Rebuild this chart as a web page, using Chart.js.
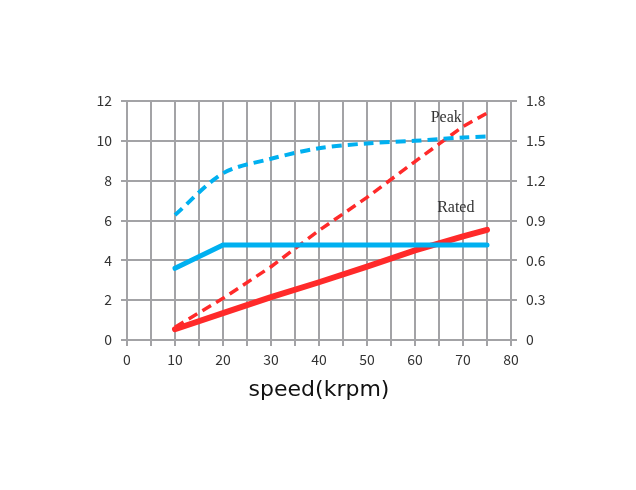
<!DOCTYPE html>
<html>
<head>
<meta charset="utf-8">
<script src="https://cdn.jsdelivr.net/npm/chart.js@4.4.0/dist/chart.umd.min.js"></script>
<style>
  html, body { margin: 0; padding: 0; background: #fff; }
  canvas { display: block; }
</style>
</head>
<body>
<canvas id="chart" width="636" height="490"></canvas>
<script>
// speed in krpm
const speed = [10, 20, 30, 40, 50, 60, 70, 75];
// values read against the left axis
const peakBlue = [6.28, 8.37, 9.1, 9.63, 9.87, 10.0, 10.17, 10.22];
const ratedBlue = [3.6, 4.77, 4.77, 4.77, 4.77, 4.77, 4.77, 4.77];
const peakRed = [0.64, 2.09, 3.68, 5.5, 7.16, 8.96, 10.72, 11.39];
const ratedRed = [0.54, 1.35, 2.15, 2.9, 3.68, 4.5, 5.2, 5.53];
const leftTicks = [0, 2, 4, 6, 8, 10, 12];
const rightTicks = [0, 0.3, 0.6, 0.9, 1.2, 1.5, 1.8];
const xLabels = [0, 10, 20, 30, 40, 50, 60, 70, 80];

const BLUE = "#00b0f0";
const RED = "#ff2a2a";
const GRID = "#a3a3a6";
const TICK_FONT = { family: "'Noto Sans CJK KR'", size: 14 };

const pts = (ys) => speed.map((x, i) => ({ x: x, y: ys[i] }));

// "Peak" / "Rated" text labels
const notes = {
  id: "notes",
  afterDatasetsDraw(chart) {
    const { ctx, scales } = chart;
    ctx.save();
    ctx.font = "16px 'Liberation Serif'";
    ctx.fillStyle = "#333";
    ctx.textAlign = "center";
    ctx.textBaseline = "middle";
    ctx.fillText("Peak", scales.x.getPixelForValue(66.5), scales.y.getPixelForValue(11.15));
    ctx.fillText("Rated", scales.x.getPixelForValue(68.5), scales.y.getPixelForValue(6.63));
    ctx.restore();
  },
};

new Chart(document.getElementById("chart"), {
  type: "line",
  data: {
    datasets: [
      {
        data: pts(peakBlue),
        borderColor: BLUE,
        borderWidth: 4,
        borderDash: [10, 6],
        tension: 0.3,
        pointRadius: 0,
      },
      {
        data: pts(ratedBlue),
        borderColor: BLUE,
        borderWidth: 5,
        borderCapStyle: "round",
        pointRadius: 0,
      },
      {
        data: pts(peakRed),
        borderColor: RED,
        borderWidth: 3.5,
        borderDash: [10, 6],
        pointRadius: 0,
      },
      {
        data: pts(ratedRed),
        borderColor: RED,
        borderWidth: 6,
        borderCapStyle: "round",
        pointRadius: 0,
      },
    ],
  },
  options: {
    responsive: false,
    animation: false,
    layout: { padding: { top: 101, right: 0, left: 0, bottom: 0 } },
    plugins: { legend: { display: false }, tooltip: { enabled: false } },
    scales: {
      x: {
        type: "linear",
        min: 0,
        max: 80,
        afterFit: (s) => { s.height = 150; },
        afterBuildTicks: (s) => {
          const t = [];
          for (let v = 0; v <= 80; v += 5) t.push({ value: v });
          s.ticks = t;
        },
        grid: { color: GRID, lineWidth: 2, tickLength: 6 },
        border: { display: false },
        ticks: {
          color: "#333",
          font: TICK_FONT,
          padding: 5,
          maxRotation: 0,
          autoSkip: false,
          callback: (v) => (xLabels.includes(v) ? String(v) : ""),
        },
        title: {
          display: true,
          text: "speed(krpm)",
          color: "#111",
          font: { family: "'DejaVu Sans'", size: 22 },
          padding: { top: 4, bottom: 87 },
        },
      },
      y: {
        position: "left",
        min: 0,
        max: 12,
        afterFit: (s) => { s.width = 127; },
        afterBuildTicks: (s) => { s.ticks = leftTicks.map((v) => ({ value: v })); },
        grid: { color: GRID, lineWidth: 2, tickLength: 6 },
        border: { display: false },
        ticks: { color: "#333", font: TICK_FONT, padding: 9 },
      },
      y2: {
        position: "right",
        min: 0,
        max: 1.8,
        afterFit: (s) => { s.width = 125; },
        afterBuildTicks: (s) => { s.ticks = rightTicks.map((v) => ({ value: v })); },
        grid: { drawOnChartArea: false, color: GRID, lineWidth: 2, tickLength: 6 },
        border: { display: false },
        ticks: {
          color: "#333",
          font: TICK_FONT,
          padding: 9,
          callback: (v) => String(Number(v.toFixed(1))),
        },
      },
    },
  },
  plugins: [notes],
});
</script>
</body>
</html>
